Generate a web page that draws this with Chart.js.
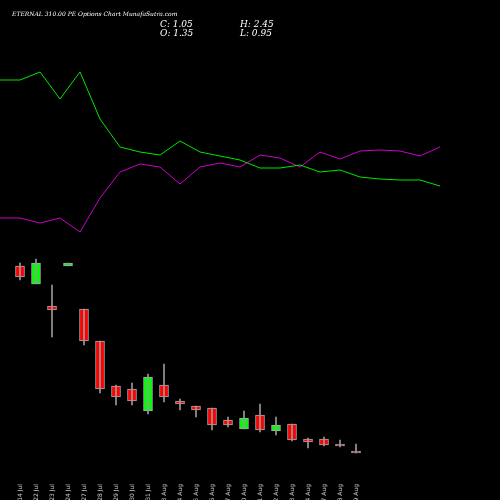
<!DOCTYPE html>
<html>
<head>
<meta charset="utf-8">
<script src="https://cdn.jsdelivr.net/npm/chart.js@4"></script>
<style>
  html, body { margin: 0; padding: 0; background: #000; }
  #wrap { width: 500px; height: 500px; }
</style>
</head>
<body>
<div id="wrap"><canvas id="chart"></canvas></div>
<script>
// ===================== DATOS =====================
const fechas = ['14 Jul','22 Jul','23 Jul','24 Jul','27 Jul','28 Jul','29 Jul','30 Jul','31 Jul','03 Aug','04 Aug',
  '05 Aug','06 Aug','07 Aug','10 Aug','11 Aug','12 Aug','13 Aug','14 Aug','17 Aug','18 Aug','19 Aug'];
const aperturas = [2.04, 1.86, 1.64, 2.04, 1.61, 1.29, 0.84, 0.81, 0.59, 0.85, 0.69, 0.64, 0.62, 0.50, 0.41, 0.55, 0.39, 0.46, 0.31, 0.31, 0.26, 0.19];
const cierres   = [1.93, 2.07, 1.60, 2.07, 1.29, 0.81, 0.73, 0.69, 0.93, 0.73, 0.66, 0.60, 0.45, 0.45, 0.52, 0.40, 0.45, 0.30, 0.28, 0.25, 0.24, 0.17];
const maximos   = [2.07, 2.11, 1.85, 2.07, 1.61, 1.29, 0.85, 0.87, 0.96, 1.06, 0.71, 0.64, 0.62, 0.53, 0.59, 0.66, 0.53, 0.46, 0.32, 0.33, 0.30, 0.26];
const minimos   = [1.90, 1.86, 1.33, 2.04, 1.25, 0.77, 0.65, 0.65, 0.56, 0.68, 0.60, 0.53, 0.40, 0.43, 0.41, 0.38, 0.35, 0.29, 0.22, 0.24, 0.23, 0.17];
// líneas superiores (escala propia)
const lineaVerde   = [4.20, 4.20, 4.28, 4.01, 4.28, 3.81, 3.53, 3.48, 3.45, 3.59, 3.48, 3.44, 3.40, 3.32, 3.32, 3.35, 3.28, 3.30, 3.23, 3.21, 3.20, 3.20, 3.14];
const lineaMagenta = [2.82, 2.82, 2.77, 2.82, 2.68, 3.02, 3.28, 3.36, 3.33, 3.16, 3.33, 3.37, 3.33, 3.45, 3.42, 3.33, 3.48, 3.41, 3.49, 3.50, 3.49, 3.44, 3.53];

const titulo = 'ETERNAL 310.00 PE Options Chart MunafaSutra.com';
const infoOHLC = [['C: 1.05', 'H: 2.45'], ['O: 1.35', 'L: 0.95']];

// ===================== CONSTRUCCIÓN =====================
const posVela  = i => 20 + 16 * i;
const posLinea = j => 20 * j;

const rojo = '#ff0000', verde = '#00ff00';
const colores = aperturas.map((o, i) => cierres[i] >= o ? verde : rojo);

const mechas = fechas.map((_, i) => ({ x: posVela(i), y: [minimos[i], maximos[i]] }));
const cuerpos = fechas.map((_, i) => {
  let o = aperturas[i], c = cierres[i];
  if (Math.abs(o - c) < 0.02) c = o + (c >= o ? 0.02 : -0.02);
  return { x: posVela(i), y: [o, c] };
});

const textoPlugin = {
  id: 'textos',
  afterDraw(chart) {
    const ctx = chart.ctx;
    const xs = chart.scales.x;
    ctx.save();
    ctx.fillStyle = '#ffffff';
    ctx.font = 'italic 6px "DejaVu Serif"';
    ctx.textBaseline = 'middle';
    ctx.fillText(titulo, 12, 14);
    ctx.font = 'italic 9px "DejaVu Serif"';
    ctx.fillText(infoOHLC[0][0], 160, 25);
    ctx.fillText(infoOHLC[0][1], 240, 25);
    ctx.fillText(infoOHLC[1][0], 160, 34);
    ctx.fillText(infoOHLC[1][1], 240, 34);
    ctx.fillStyle = '#cccccc';
    ctx.font = '6px "DejaVu Sans"';
    ctx.textAlign = 'right';
    fechas.forEach((f, i) => {
      ctx.save();
      ctx.translate(xs.getPixelForValue(posVela(i)), 464);
      ctx.rotate(-Math.PI / 2);
      ctx.fillText(f, -20, 0);
      ctx.restore();
    });
    ctx.restore();
  }
};

new Chart(document.getElementById('chart'), {
  type: 'bar',
  data: {
    datasets: [
      { type: 'line', data: lineaVerde.map((v, j) => ({ x: posLinea(j), y: v })), yAxisID: 'y2',
        borderColor: '#00e600', borderWidth: 1, pointRadius: 0, tension: 0 },
      { type: 'line', data: lineaMagenta.map((v, j) => ({ x: posLinea(j), y: v })), yAxisID: 'y2',
        borderColor: '#cc00cc', borderWidth: 1, pointRadius: 0, tension: 0 },
      { data: mechas, backgroundColor: '#999999', barThickness: 1, grouped: false },
      { data: cuerpos, backgroundColor: colores, borderColor: '#aaaaaa', borderWidth: 1,
        borderSkipped: false, barThickness: 9, grouped: false },
    ],
  },
  options: {
    responsive: true,
    maintainAspectRatio: false,
    animation: false,
    layout: { padding: 0 },
    scales: {
      x: { type: 'linear', min: 0, max: 500, offset: false, display: false },
      y: { min: -0.3, max: 4.7, display: false },
      y2: { min: 0, max: 5, display: false },
    },
    plugins: { legend: { display: false }, tooltip: { enabled: false } },
  },
  plugins: [textoPlugin],
});
</script>
</body>
</html>
